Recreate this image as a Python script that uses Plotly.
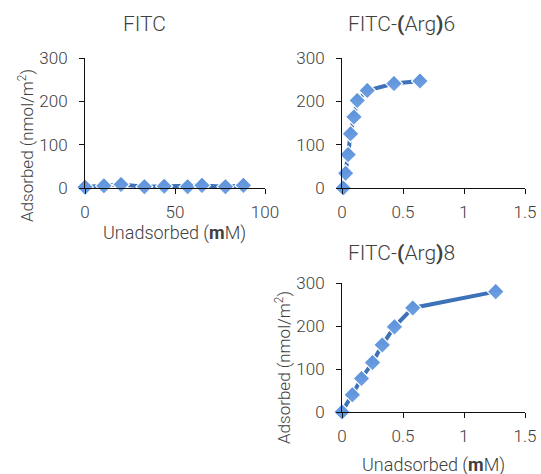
import plotly.graph_objects as go

W, H = 541, 474

# ---- data ----
fitc_x = [0, 10.5, 20, 33, 44, 57, 65, 78, 88]
fitc_y = [2, 5, 8, 3, 4, 3, 6, 3, 6]

arg6_x = [0.01, 0.03, 0.05, 0.07, 0.098, 0.125, 0.207, 0.426, 0.639]
arg6_y = [0, 34, 77, 125, 164, 202, 225, 241, 247]

arg8_x = [0.0, 0.085, 0.16, 0.25, 0.33, 0.43, 0.58, 1.26]
arg8_y = [0, 40, 78, 115, 156, 198, 242, 280]

titles = ["FITC", "FITC-<b>(</b>Arg<b>)</b>6", "FITC-<b>(</b>Arg<b>)</b>8"]
x_title = "Unadsorbed (<b>m</b>M)"
y_title = "Adsorbed (nmol/m<sup>2</sup>)"
y_ticks = [0, 100, 200, 300]
fitc_xticks = [0, 50, 100]
arg_xticks = [0, 0.5, 1, 1.5]
arg_xticklabels = ["0", "0.5", "1", "1.5"]

FONT = "Roboto, Lato, sans-serif"
TXT = "#404040"
LINE_C = "#3d72b8"
MARK_C = "#5b91da"


def px(x):
    return x / W


def py(y):
    return 1 - y / H


fig = go.Figure()


def add_series(x, y, xa, ya):
    fig.add_trace(go.Scatter(
        x=x, y=y, xaxis=xa, yaxis=ya, mode="lines+markers",
        line=dict(color=LINE_C, width=4),
        marker=dict(symbol="diamond", size=13, color=MARK_C,
                    gradient=dict(type="vertical", color="#6fa0e2"),
                    line=dict(color="white", width=1.2)),
        cliponaxis=False, showlegend=False))


add_series(fitc_x, fitc_y, "x", "y")
add_series(arg6_x, arg6_y, "x2", "y2")
add_series(arg8_x, arg8_y, "x3", "y3")

tickfont = dict(family=FONT, size=17, color=TXT, weight=300)
axis_common = dict(showgrid=False, zeroline=False, showline=True,
                   linecolor="#111111", linewidth=1, ticklen=5,
                   tickcolor="#111111", ticks="outside", tickfont=tickfont,
                   automargin=False)

top_dom = [py(188), py(58)]
bot_dom = [py(412), py(283)]

fig.update_layout(
    width=W, height=H,
    margin=dict(l=0, r=0, t=0, b=0, pad=0, autoexpand=False),
    paper_bgcolor="white", plot_bgcolor="white",
    font=dict(family=FONT, color=TXT),
    xaxis=dict(domain=[px(85), px(265)], range=[0, 100], tickvals=fitc_xticks,
               anchor="y", ticklabelstandoff=4, **axis_common),
    yaxis=dict(domain=top_dom, range=[0, 300], tickvals=y_ticks,
               anchor="x", ticklabelstandoff=8, **axis_common),
    xaxis2=dict(domain=[px(342), px(525)], range=[0, 1.5], tickvals=arg_xticks,
                ticktext=arg_xticklabels, anchor="y2", ticklabelstandoff=4,
                **axis_common),
    yaxis2=dict(domain=top_dom, range=[0, 300], tickvals=y_ticks,
                anchor="x2", ticklabelstandoff=8, **axis_common),
    xaxis3=dict(domain=[px(342), px(525)], range=[0, 1.5], tickvals=arg_xticks,
                ticktext=arg_xticklabels, anchor="y3", ticklabelstandoff=4,
                **axis_common),
    yaxis3=dict(domain=bot_dom, range=[0, 300], tickvals=y_ticks,
                anchor="x3", ticklabelstandoff=8, **axis_common),
)

ann = []


def note(text, x, y, size, angle=0):
    ann.append(dict(text=text, x=px(x), y=py(y), xref="paper", yref="paper",
                    xanchor="center", yanchor="middle", showarrow=False,
                    textangle=angle,
                    font=dict(family=FONT, size=size, color=TXT, weight=300)))


note(titles[0], 144, 24, 21)
note(titles[1], 401, 24, 21)
note(titles[2], 401, 253, 21)
note(x_title, 174, 233, 18)
note(x_title, 433, 465, 18)
note(y_title, 26, 146, 17, -90)
note(y_title, 283, 368, 17, -90)

fig.update_layout(annotations=ann)
fig.write_html(
    "out.html",
    config={"responsive": False, "displayModeBar": False},
    post_script=(
        "document.body.style.margin='0';"
        "document.body.style.overflow='hidden';"
        "document.documentElement.style.overflow='hidden';"
    ),
)
